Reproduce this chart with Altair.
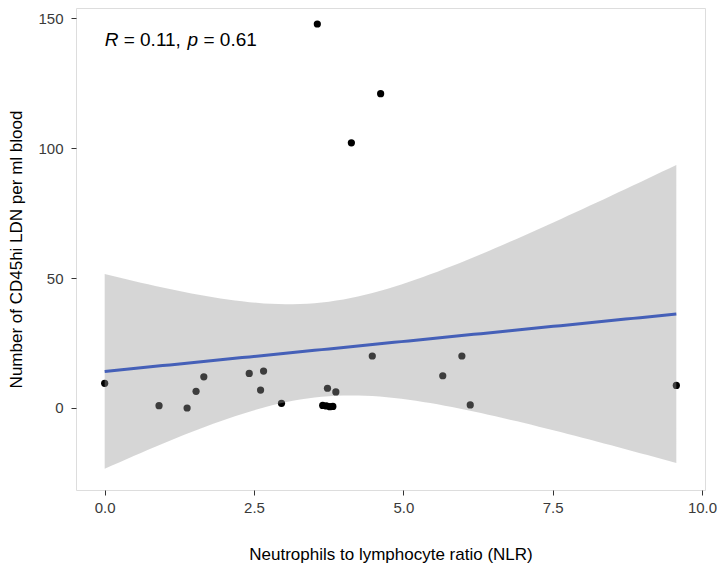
import altair as alt
import numpy as np
import pandas as pd

# Data
nlr = [0.00, 0.91, 1.38, 1.53, 1.66, 2.42, 2.61, 2.66, 2.96, 3.56, 3.65, 3.71, 3.77, 3.82,
       3.73, 3.87, 4.13, 4.48, 4.62, 5.66, 5.98, 6.12, 9.57]
ldn = [9.5, 0.9, 0.0, 6.4, 12.0, 13.3, 6.9, 14.2, 1.8, 147.7, 1.0, 0.8, 0.5, 0.6,
       7.6, 6.2, 102.0, 20.0, 120.9, 12.4, 20.0, 1.2, 8.7]

x_ticks = [0.0, 2.5, 5.0, 7.5, 10.0]
y_ticks = [0, 50, 100, 150]

# Linear model fit (geom_smooth(method="lm") equivalent) with 95% CI
xa = np.array(nlr)
ya = np.array(ldn)
n = len(xa)
b1, b0 = np.polyfit(xa, ya, 1)
resid = ya - (b0 + b1 * xa)
s = np.sqrt(np.sum(resid ** 2) / (n - 2))
sxx = np.sum((xa - xa.mean()) ** 2)
tcrit = 2.0796  # t(0.975, df=21)
xg = np.linspace(xa.min(), xa.max(), 80)
fit = b0 + b1 * xg
se = s * np.sqrt(1.0 / n + (xg - xa.mean()) ** 2 / sxx)

pts = pd.DataFrame({"x": nlr, "y": ldn})
band = pd.DataFrame({"x": xg, "fit": fit, "lo": fit - tcrit * se, "hi": fit + tcrit * se})

xscale = alt.Scale(domain=[-0.48, 10.05], nice=False, zero=False)
yscale = alt.Scale(domain=[-31.54, 153.85], nice=False, zero=False)

xaxis = alt.Axis(values=x_ticks, format=".1f", title="Neutrophils to lymphocyte ratio (NLR)",
                 grid=False, domain=False, tickColor="#333333", tickSize=5, tickWidth=1,
                 labelColor="#3a3a3a", labelFontSize=15, labelPadding=5,
                 labelFont="Liberation Sans", titleFont="Liberation Sans",
                 titleFontSize=17, titleFontWeight="normal", titleColor="#000000",
                 titlePadding=31)
yaxis = alt.Axis(values=y_ticks, title="Number of CD45hi LDN per ml blood",
                 grid=False, domain=False, tickColor="#333333", tickSize=5, tickWidth=1,
                 labelColor="#3a3a3a", labelFontSize=15, labelPadding=8,
                 labelFont="Liberation Sans", titleFont="Liberation Sans",
                 titleFontSize=17, titleFontWeight="normal", titleColor="#000000",
                 titlePadding=12)

points = alt.Chart(pts).mark_circle(size=52, color="#000000", opacity=1).encode(
    x=alt.X("x:Q", scale=xscale, axis=xaxis),
    y=alt.Y("y:Q", scale=yscale, axis=yaxis),
)

ribbon = alt.Chart(band).mark_area(color="#999999", opacity=0.4).encode(
    x=alt.X("x:Q", scale=xscale),
    y=alt.Y("lo:Q", scale=yscale),
    y2="hi:Q",
)

line = alt.Chart(band).mark_line(color="#4560b8", strokeWidth=3).encode(
    x=alt.X("x:Q", scale=xscale),
    y=alt.Y("fit:Q", scale=yscale),
)

ann = pd.DataFrame({"x": [0.0], "y": [141.7]})
parts = [("R", "italic", 0), ("= 0.11,", "normal", 19.0), ("p", "italic", 82.9), ("= 0.61", "normal", 98.8)]
texts = []
for t, style, dx in parts:
    texts.append(
        alt.Chart(ann).mark_text(text=t, fontStyle=style, dx=dx, align="left", baseline="middle",
                                 fontSize=19, font="Liberation Sans", color="#000000").encode(
            x=alt.X("x:Q", scale=xscale),
            y=alt.Y("y:Q", scale=yscale),
        )
    )

chart = alt.layer(points, ribbon, line, *texts).properties(
    width=629, height=482,
    autosize=alt.AutoSizeParams(type="none"),
    padding={"left": 68, "top": 0, "right": 12, "bottom": 76},
).configure_view(stroke="#444444", strokeWidth=1.2).configure(background="white")

chart.save("out.html", embed_options={"renderer": "svg", "actions": False})
